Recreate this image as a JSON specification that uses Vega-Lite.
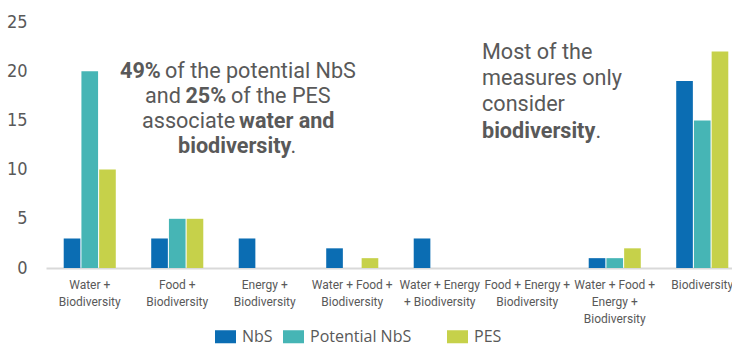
{
  "$schema": "https://vega.github.io/schema/vega-lite/v6.json",
  "autosize": "none",
  "width": 686,
  "height": 246,
  "padding": {"left": 46, "top": 22, "right": 0, "bottom": 78},
  "background": "white",
  "config": {
    "view": {"stroke": null},
    "axis": {"grid": false, "ticks": false, "tickSize": 0, "title": null}
  },
  "datasets": {
    "bars": [
      {"category": "Water + Biodiversity", "series": "NbS", "value": 3},
      {"category": "Water + Biodiversity", "series": "Potential NbS", "value": 20},
      {"category": "Water + Biodiversity", "series": "PES", "value": 10},
      {"category": "Food + Biodiversity", "series": "NbS", "value": 3},
      {"category": "Food + Biodiversity", "series": "Potential NbS", "value": 5},
      {"category": "Food + Biodiversity", "series": "PES", "value": 5},
      {"category": "Energy + Biodiversity", "series": "NbS", "value": 3},
      {"category": "Energy + Biodiversity", "series": "Potential NbS", "value": 0},
      {"category": "Energy + Biodiversity", "series": "PES", "value": 0},
      {"category": "Water + Food + Biodiversity", "series": "NbS", "value": 2},
      {"category": "Water + Food + Biodiversity", "series": "Potential NbS", "value": 0},
      {"category": "Water + Food + Biodiversity", "series": "PES", "value": 1},
      {"category": "Water + Energy + Biodiversity", "series": "NbS", "value": 3},
      {"category": "Water + Energy + Biodiversity", "series": "Potential NbS", "value": 0},
      {"category": "Water + Energy + Biodiversity", "series": "PES", "value": 0},
      {"category": "Food + Energy + Biodiversity", "series": "NbS", "value": 0},
      {"category": "Food + Energy + Biodiversity", "series": "Potential NbS", "value": 0},
      {"category": "Food + Energy + Biodiversity", "series": "PES", "value": 0},
      {"category": "Water + Food + Energy + Biodiversity", "series": "NbS", "value": 1},
      {"category": "Water + Food + Energy + Biodiversity", "series": "Potential NbS", "value": 1},
      {"category": "Water + Food + Energy + Biodiversity", "series": "PES", "value": 2},
      {"category": "Biodiversity", "series": "NbS", "value": 19},
      {"category": "Biodiversity", "series": "Potential NbS", "value": 15},
      {"category": "Biodiversity", "series": "PES", "value": 22}
    ],
    "notes": [
      {"text": "49%", "pos": 0.846, "level": 19.92, "bold": true},
      {"text": "of the potential NbS", "pos": 1.36, "level": 19.92, "bold": false},
      {"text": "and", "pos": 1.131, "level": 17.38, "bold": false},
      {"text": "25%", "pos": 1.594, "level": 17.38, "bold": true},
      {"text": "of the PES", "pos": 2.114, "level": 17.38, "bold": false},
      {"text": "associate", "pos": 1.097, "level": 14.84, "bold": false},
      {"text": "water and", "pos": 2.206, "level": 14.84, "bold": true},
      {"text": "biodiversity", "pos": 1.509, "level": 12.30, "bold": true},
      {"text": ".", "pos": 2.795, "level": 12.30, "bold": false},
      {"text": "Most of the", "pos": 4.983, "level": 21.85, "bold": false},
      {"text": "measures only", "pos": 4.983, "level": 19.21, "bold": false},
      {"text": "consider", "pos": 4.983, "level": 16.57, "bold": false},
      {"text": "biodiversity", "pos": 4.983, "level": 13.82, "bold": true},
      {"text": ".", "pos": 6.28, "level": 13.82, "bold": false}
    ]
  },
  "layer": [
    {
      "data": {"name": "bars"},
      "mark": {"type": "bar"},
      "encoding": {
        "x": {
          "field": "category",
          "type": "nominal",
          "sort": null,
          "scale": {
            "domain": ["Water + Biodiversity", "Food + Biodiversity", "Energy + Biodiversity", "Water + Food + Biodiversity", "Water + Energy + Biodiversity", "Food + Energy + Biodiversity", "Water + Food + Energy + Biodiversity", "Biodiversity"],
            "range": [0, 700],
            "paddingInner": 0,
            "paddingOuter": 0
          },
          "axis": {
            "labelAngle": 0,
            "labelFont": "Roboto",
            "labelFontSize": 12,
            "labelColor": "#595959",
            "labelPadding": 11,
            "labelLineHeight": 17,
            "labelOverlap": false,
            "labelBound": false,
            "labelLimit": 0,
            "domainColor": "#d9d9d9",
            "domainWidth": 2,
            "labelExpr": "datum.value == 'Water + Biodiversity' ? ['Water +', 'Biodiversity'] : datum.value == 'Food + Biodiversity' ? ['Food +', 'Biodiversity'] : datum.value == 'Energy + Biodiversity' ? ['Energy +', 'Biodiversity'] : datum.value == 'Water + Food + Biodiversity' ? ['Water + Food +', 'Biodiversity'] : datum.value == 'Water + Energy + Biodiversity' ? ['Water + Energy', '+ Biodiversity'] : datum.value == 'Food + Energy + Biodiversity' ? ['Food + Energy +', 'Biodiversity'] : datum.value == 'Water + Food + Energy + Biodiversity' ? ['Water + Food +', 'Energy +', 'Biodiversity'] : datum.value"
          }
        },
        "xOffset": {
          "field": "series",
          "type": "nominal",
          "sort": null,
          "scale": {"domain": ["NbS", "Potential NbS", "PES"], "paddingInner": 0.06, "paddingOuter": 1.1}
        },
        "y": {
          "field": "value",
          "type": "quantitative",
          "scale": {"domain": [0, 25], "nice": false},
          "axis": {
            "values": [0, 5, 10, 15, 20, 25],
            "domain": false,
            "labelFont": "Liberation Sans Narrow, DejaVu Sans Condensed, sans-serif",
            "labelFontSize": 18,
            "labelColor": "#595959",
            "labelPadding": 19
          }
        },
        "color": {
          "field": "series",
          "type": "nominal",
          "sort": null,
          "scale": {"domain": ["NbS", "Potential NbS", "PES"], "range": ["#0b6db3", "#46b5b5", "#c6d14a"]},
          "legend": {
            "title": null,
            "orient": "none",
            "direction": "horizontal",
            "legendX": 169,
            "legendY": 304,
            "padding": 0,
            "symbolType": "M-1,-0.62H1V0.62H-1Z",
            "symbolSize": 441,
            "symbolStrokeWidth": 0,
            "symbolOpacity": 1,
            "labelFont": "Open Sans",
            "labelFontSize": 16,
            "labelColor": "#595959",
            "labelOffset": 6,
            "columnPadding": 10,
            "labelExpr": "datum.label == 'Potential NbS' ? 'Potential NbS\u00a0\u00a0\u00a0\u00a0\u00a0\u00a0\u200b' : datum.label"
          }
        }
      }
    },
    {
      "data": {"name": "notes"},
      "transform": [{"filter": "datum.bold == false"}],
      "mark": {"type": "text", "align": "left", "baseline": "middle", "font": "Roboto", "fontSize": 21.6, "color": "#595959"},
      "encoding": {
        "x": {"field": "pos", "type": "quantitative", "scale": {"domain": [0, 8], "range": [0, 700], "nice": false, "zero": false}, "axis": null},
        "y": {"field": "level", "type": "quantitative"},
        "text": {"field": "text"}
      }
    },
    {
      "data": {"name": "notes"},
      "transform": [{"filter": "datum.bold == true"}],
      "mark": {"type": "text", "align": "left", "baseline": "middle", "font": "Roboto", "fontSize": 21.6, "fontWeight": "bold", "color": "#595959"},
      "encoding": {
        "x": {"field": "pos", "type": "quantitative", "scale": {"domain": [0, 8], "range": [0, 700], "nice": false, "zero": false}, "axis": null},
        "y": {"field": "level", "type": "quantitative"},
        "text": {"field": "text"}
      }
    }
  ],
  "resolve": {"scale": {"x": "independent"}}
}
